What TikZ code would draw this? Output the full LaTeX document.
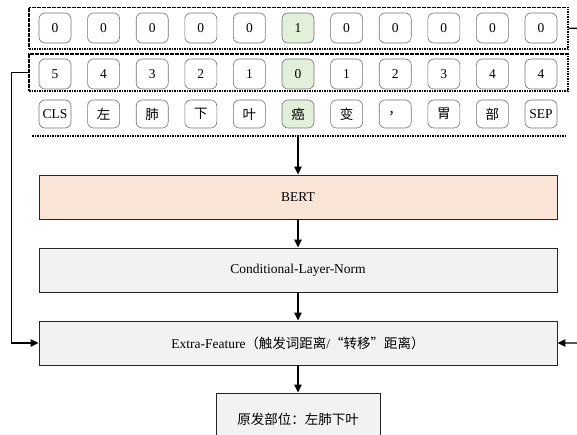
\documentclass[tikz,border=0pt]{standalone}
\usepackage{fontspec}
\setmainfont{Liberation Serif}
\newfontfamily\cjk{Noto Sans CJK SC}
\usetikzlibrary{arrows.meta}
\definecolor{peach}{RGB}{251,229,214}
\definecolor{lgray}{RGB}{242,242,242}
\definecolor{lgreen}{RGB}{226,239,217}
\begin{document}
\begin{tikzpicture}[x=1pt,y=-1pt,font=\fontsize{13.5}{15}\selectfont,
  tok/.style={draw=black!55,fill=white,rounded corners=6pt,minimum width=32pt,minimum height=30pt,inner sep=0pt,line width=0.6pt},
  tokc/.style={tok,minimum height=28pt},
  big/.style={draw=black!85,line width=0.9pt,minimum width=518pt,minimum height=44pt,inner sep=0pt},
  dbox/.style={draw=black,dash pattern=on 1.6pt off 0.9pt,line width=1.1pt,inner sep=0pt},
  conn/.style={line width=1.2pt,draw=black,-{Triangle[length=8pt,width=7.5pt]}}]
\useasboundingbox (0,0) rectangle (577,435);
\clip (0,0) rectangle (577,435);
% dashed group boxes
\node[dbox,minimum width=539pt,minimum height=41.5pt] (row1) at (298.5,28.25) {};
\node[dbox,minimum width=539pt,minimum height=37pt] (row2) at (298.5,72.5) {};
\coordinate (sepL) at (32,136);
\coordinate (sepR) at (565,136);
\coordinate (sepM) at (298,136);
\draw[dbox] (sepL) -- (sepR);
% tokens
\foreach \v [count=\i from 0] in {0,0,0,0,0,1,0,0,0,0,0}{
  \def\fc{white}\ifnum\i=5 \def\fc{lgreen}\fi
  \node[tok,fill=\fc] (a\i) at ({55+48.6*\i},28) {\v};
}
\foreach \v [count=\i from 0] in {5,4,3,2,1,0,1,2,3,4,4}{
  \def\fc{white}\ifnum\i=5 \def\fc{lgreen}\fi
  \node[tok,fill=\fc] (b\i) at ({55+48.6*\i},74) {\v};
}
\foreach \v [count=\i from 0] in {CLS,{\cjk 左},{\cjk 肺},{\cjk 下},{\cjk 叶},{\cjk 癌},{\cjk 变},{\cjk ，},{\cjk 胃},{\cjk 部},SEP}{
  \def\fc{white}\ifnum\i=5 \def\fc{lgreen}\fi
  \node[tokc,fill=\fc] (c\i) at ({55+48.6*\i},114) {\v};
}
% main boxes
\node[big,fill=peach] (bert) at (298,197) {BERT};
\node[big,fill=lgray] (cond) at (298,270) {Conditional-Layer-Norm};
\node[big,fill=lgray] (extra) at (298,343) {Extra-Feature{\cjk （触发词距离}/{\cjk “转移”距离）}};
\node[draw=black!85,line width=0.9pt,fill=lgray,minimum width=164pt,minimum height=52pt,inner sep=0pt] (res) at (298,419) {{\cjk 原发部位：左肺下叶}};
% connectors
\draw[conn] (sepM) -- (bert);
\draw[conn] (bert) -- (cond);
\draw[conn] (cond) -- (extra);
\draw[conn] (extra) -- (res);
\draw[conn] (row2.west) -- ++(-17,0) |- (extra.west);
\coordinate (rout) at (590,28);
\draw[conn] (row1.east) -- (rout) |- (extra.east);
\end{tikzpicture}
\end{document}
